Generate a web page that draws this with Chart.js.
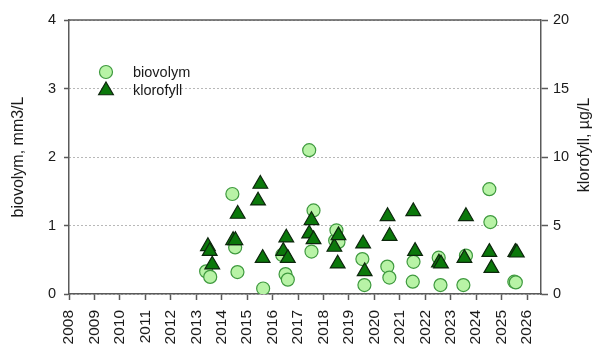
<!DOCTYPE html>
<html>
<head>
<meta charset="utf-8">
<script src="https://cdn.jsdelivr.net/npm/chart.js@4/dist/chart.umd.min.js"></script>
<style>
html,body{margin:0;padding:0;background:#fff;}
#wrap{width:597px;height:349px;position:relative;}
</style>
</head>
<body>
<div id="wrap"><canvas id="c" width="597" height="349"></canvas></div>
<script>
// ---- data (decimal years) ----
const bioYears = [2013.39,2013.55,2014.42,2014.53,2014.62,2015.63,2016.38,2016.51,2016.60,2017.44,2017.53,2017.61,2018.46,2018.51,2018.59,2019.53,2019.61,2020.51,2020.59,2021.51,2021.54,2022.53,2022.60,2023.50,2023.60,2024.52,2024.56,2025.50,2025.56];
const bioValues = [0.33,0.25,1.46,0.68,0.32,0.08,0.57,0.29,0.21,2.10,0.62,1.22,0.78,0.93,0.76,0.51,0.13,0.40,0.24,0.18,0.47,0.53,0.13,0.13,0.56,1.53,1.05,0.18,0.17];
const klorYears = [2013.46,2013.53,2013.63,2014.45,2014.54,2014.63,2015.43,2015.52,2015.61,2016.42,2016.54,2016.60,2017.44,2017.53,2017.61,2018.43,2018.56,2018.59,2019.56,2019.62,2020.52,2020.60,2021.53,2021.60,2022.54,2022.62,2023.54,2023.60,2024.52,2024.60,2025.54,2025.60];
const klorValues = [3.48,3.13,2.14,3.92,3.92,5.84,6.81,8.03,2.62,3.13,4.11,2.62,4.40,5.38,3.99,3.43,2.21,4.28,3.67,1.65,5.67,4.23,6.03,3.13,2.28,2.21,2.62,5.67,3.06,1.89,3.06,3.01];
const seriesNames = ['biovolym','klorofyll'];
const leftTitle = 'biovolym, mm3/L';
const rightTitle = 'klorofyll, µg/L';
const xMin = 2008, xMax = 2026.55;

const FONT = '"Liberation Sans", Arial, sans-serif';
const AXIS = '#5a5a5a';
const TXT = '#1a1a1a';

const bioPts = bioYears.map((x,i)=>({x, y: bioValues[i]}));
const klorPts = klorYears.map((x,i)=>({x, y: klorValues[i]}));

const styles = [
  {pointStyle:'circle', radius:6.5, bg:'#b8f3a6', border:'#3f9a3f', bw:1.2},
  {pointStyle:'triangle', radius:8.5, bg:'#0b780b', border:'#0d260d', bw:1.2}
];

const frame = {
  id:'frame',
  afterDatasetsDraw(chart){
    const {ctx, chartArea:a} = chart;
    ctx.save();
    ctx.strokeStyle = AXIS; ctx.lineWidth = 1.5;
    ctx.beginPath(); ctx.moveTo(a.left, a.top); ctx.lineTo(a.right, a.top); ctx.stroke();
    // legend
    const lx = a.left + 37, ly0 = a.top + 52, dy = 18;
    ctx.font = '14.5px ' + FONT;
    ctx.textBaseline = 'middle'; ctx.textAlign = 'left';
    styles.forEach((s, i) => {
      const y = ly0 + i*dy;
      ctx.fillStyle = s.bg; ctx.strokeStyle = s.border; ctx.lineWidth = s.bw;
      ctx.beginPath();
      if (s.pointStyle==='circle') ctx.arc(lx, y, s.radius, 0, Math.PI*2);
      else {
        const r = s.radius, cy = y + 0.5;
        ctx.moveTo(lx, cy - r);
        ctx.lineTo(lx + Math.sin(2*Math.PI/3)*r, cy + r/2);
        ctx.lineTo(lx - Math.sin(2*Math.PI/3)*r, cy + r/2);
        ctx.closePath();
      }
      ctx.fill(); ctx.stroke();
      ctx.fillStyle = TXT;
      ctx.fillText(seriesNames[i], a.left + 64, y + 1);
    });
    // right axis title, reading bottom-to-top
    ctx.save();
    ctx.translate(585, (a.top + a.bottom)/2 - 12);
    ctx.rotate(-Math.PI/2);
    ctx.textAlign = 'center'; ctx.textBaseline = 'middle';
    ctx.font = '16px ' + FONT; ctx.fillStyle = TXT;
    ctx.fillText(rightTitle, 0, 0);
    ctx.restore();
    ctx.restore();
  }
};

new Chart(document.getElementById('c'), {
  type:'scatter',
  data:{
    datasets:[
      {label:seriesNames[0], data:bioPts, yAxisID:'y', order:2,
       pointStyle:styles[0].pointStyle, pointRadius:styles[0].radius, pointBackgroundColor:styles[0].bg,
       pointBorderColor:styles[0].border, pointBorderWidth:styles[0].bw, pointHoverRadius:styles[0].radius},
      {label:seriesNames[1], data:klorPts, yAxisID:'y2', order:1,
       pointStyle:styles[1].pointStyle, pointRadius:styles[1].radius, pointBackgroundColor:styles[1].bg,
       pointBorderColor:styles[1].border, pointBorderWidth:styles[1].bw, pointHoverRadius:styles[1].radius}
    ]
  },
  options:{
    responsive:false, animation:false, devicePixelRatio:1,
    layout:{padding:{top:20,left:0,right:0,bottom:0}},
    plugins:{legend:{display:false}, tooltip:{enabled:false}},
    scales:{
      x:{type:'linear', min:xMin, max:xMax, position:'bottom',
         afterFit(s){ s.height = 55; },
         ticks:{stepSize:1, includeBounds:false, autoSkip:false, minRotation:90, maxRotation:90,
                padding:10, color:TXT, font:{family:FONT, size:15.5}, callback:v=>String(v)},
         grid:{drawOnChartArea:false, drawTicks:true, tickLength:6, tickColor:AXIS, tickWidth:1.5},
         border:{display:true, color:AXIS, width:1.5}},
      y:{type:'linear', position:'left', min:0, max:4,
         afterFit(s){ s.width = 69; },
         ticks:{stepSize:1, padding:8, color:TXT, font:{family:FONT, size:14.5}},
         grid:{color:'#707070', lineWidth:1, tickLength:5, tickColor:AXIS, tickWidth:1.5, tickBorderDash:[]},
         border:{display:true, color:AXIS, width:1.5, dash:[1,3]},
         title:{display:true, text:leftTitle, color:TXT, font:{family:FONT, size:16}, padding:{top:9,bottom:0}}},
      y2:{type:'linear', position:'right', min:0, max:20,
         afterFit(s){ s.width = 56; },
         ticks:{stepSize:5, padding:5, color:TXT, font:{family:FONT, size:14.5}},
         grid:{drawOnChartArea:false, tickLength:7, tickColor:AXIS, tickWidth:1.5},
         border:{display:true, color:AXIS, width:1.5}}
    }
  },
  plugins:[frame]
});
</script>
</body>
</html>
